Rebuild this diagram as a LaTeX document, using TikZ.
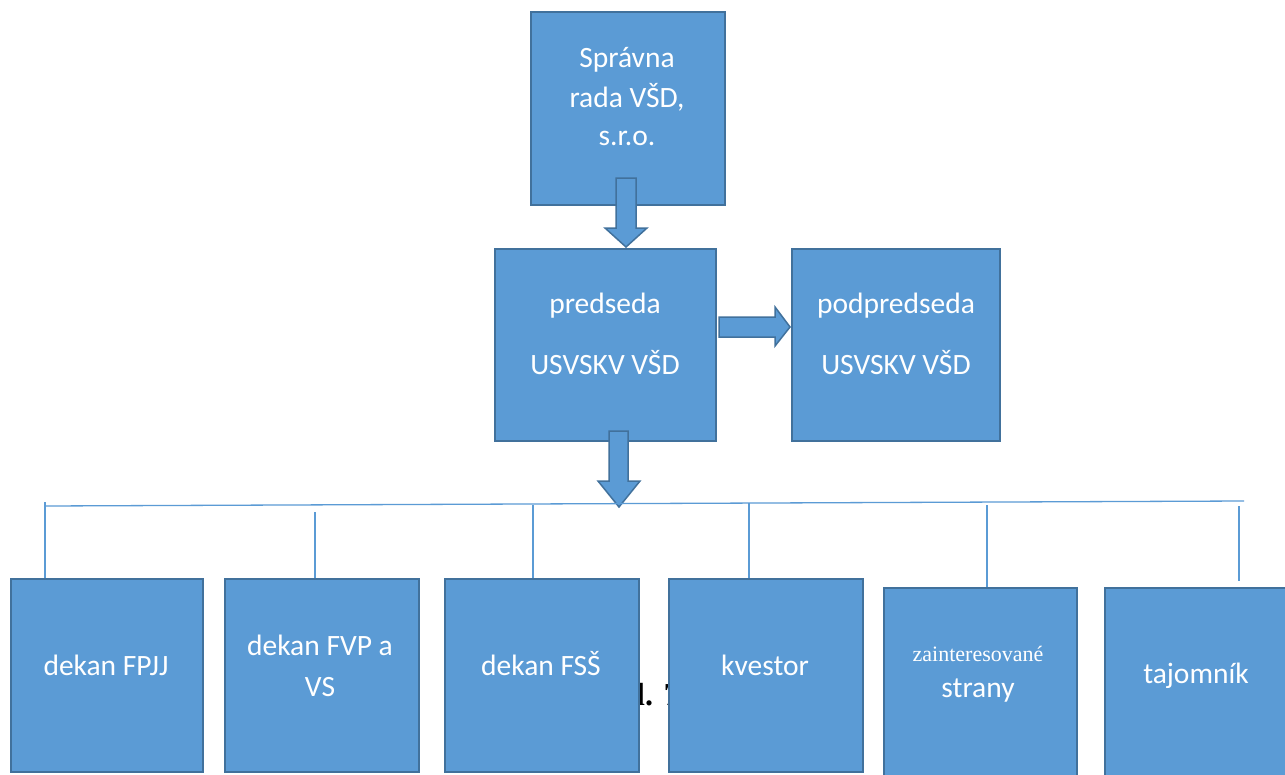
\documentclass[tikz,border=0pt]{standalone}
\usepackage{fontspec}
\setmainfont{Carlito}
\newfontfamily\seriffont{Liberation Serif}
\definecolor{boxfill}{HTML}{5B9BD5}
\definecolor{boxline}{HTML}{41719C}
\begin{document}
\begin{tikzpicture}[x=1pt,y=-1pt,
  orgbox/.style={draw=boxline,line width=1.8pt,fill=boxfill,rectangle,inner sep=0pt,anchor=north west},
  lbl/.style={text=white,anchor=base,font=\fontsize{29.5}{39}\selectfont,inner sep=0pt},
  blockarrow/.style={draw=boxline,line width=1.5pt,fill=boxfill,line join=miter},
  link/.style={draw=boxfill,line width=1.3pt}]
\clip (0,0) rectangle (1285,774);
\fill[white] (0,0) rectangle (1285,774);
% partially hidden caption text
\node[anchor=base west,inner sep=0pt,font=\seriffont\bfseries\fontsize{32}{34}\selectfont] (cap) at (636,705) {l. 7};
% boxes
\node[orgbox,minimum width=194pt,minimum height=193pt] (top) at (530,11) {};
\node[orgbox,minimum width=221pt,minimum height=192pt] (pred) at (494,248) {};
\node[orgbox,minimum width=208pt,minimum height=192pt] (podp) at (791,248) {};
\node[orgbox,minimum width=192pt,minimum height=193pt] (b1) at (10,578) {};
\node[orgbox,minimum width=194pt,minimum height=193pt] (b2) at (224,578) {};
\node[orgbox,minimum width=194pt,minimum height=193pt] (b3) at (444,578) {};
\node[orgbox,minimum width=194pt,minimum height=193pt] (b4) at (668,578) {};
\node[orgbox,minimum width=193pt,minimum height=200pt] (b5) at (883,587) {};
\node[orgbox,minimum width=200pt,minimum height=200pt] (b6) at (1104,587) {};
% texts
\node[lbl] (t1) at (627,67) {Správna};
\node[lbl] (t2) at (627,107) {rada VŠD,};
\node[lbl] (t3) at (627,145) {s.r.o.};
\node[lbl] (p1) at (605,313) {predseda};
\node[lbl] (p2) at (605,374) {USVSKV VŠD};
\node[lbl] (q1) at (896,313) {podpredseda};
\node[lbl] (q2) at (896,374) {USVSKV VŠD};
\node[lbl] (l1) at (106,675) {dekan FPJJ};
\node[lbl] (l2a) at (320,655) {dekan FVP a};
\node[lbl] (l2b) at (320,696) {VS};
\node[lbl] (l3) at (541,675) {dekan FSŠ};
\node[lbl] (l4) at (765,675) {kvestor};
\node[lbl,font=\seriffont\fontsize{22}{24}\selectfont] (l5a) at (978,661) {zainteresované};
\node[lbl] (l5b) at (978,697) {strany};
\node[lbl] (l6) at (1196,683) {tajomník};
% block arrows
\draw[blockarrow] (616,178) -- (636,178) -- (636,228) -- (647,228) -- (626,247) -- (605,228) -- (616,228) -- cycle;
\draw[blockarrow] (719,317) -- (775,317) -- (775,307) -- (790,327) -- (775,346) -- (775,337) -- (719,337) -- cycle;
\draw[blockarrow] (609,431) -- (628,431) -- (628,481) -- (640,481) -- (619,507) -- (598,481) -- (609,481) -- cycle;
% connector lines
\coordinate (hl) at (45,506);
\coordinate (hr) at (1244,501);
\draw[link] (hl) -- (hr);
\draw[link] (45,502) -- (45,578);
\draw[link] (315,512) -- (315,578);
\draw[link] (533,505) -- (533,578);
\draw[link] (749,503) -- (749,578);
\draw[link] (987,505) -- (987,587);
\draw[link] (1239,506) -- (1239,581);
\end{tikzpicture}
\end{document}
